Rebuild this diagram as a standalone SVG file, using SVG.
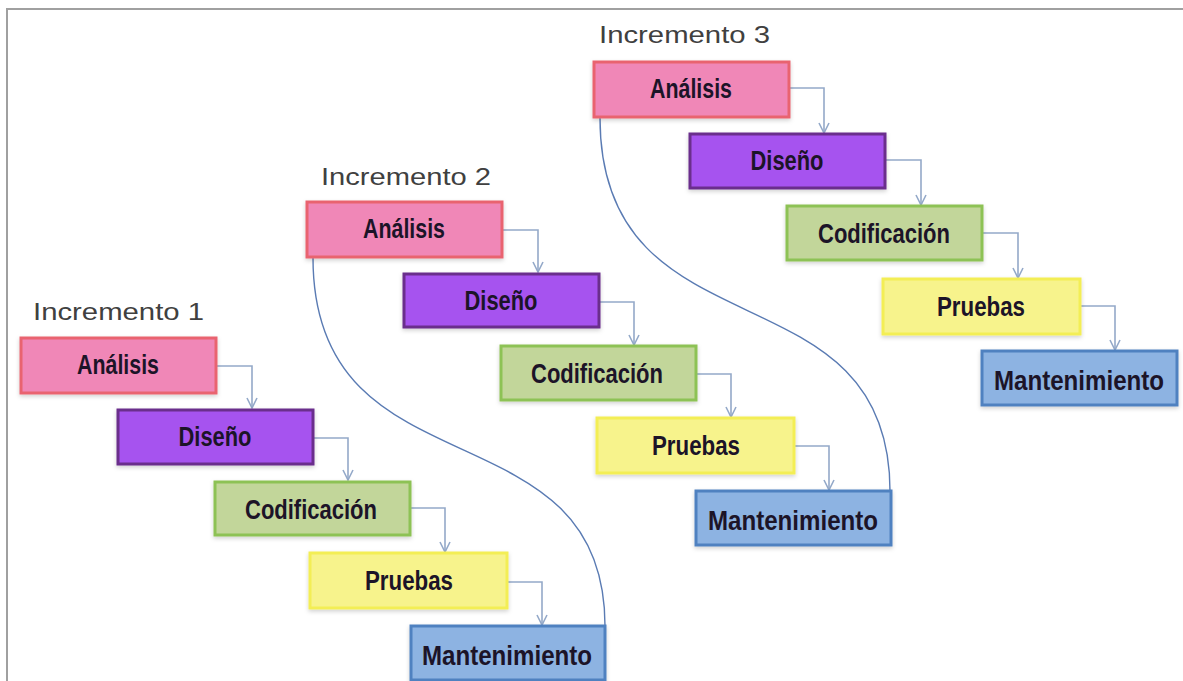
<svg xmlns="http://www.w3.org/2000/svg" width="1183" height="681" viewBox="0 0 1183 681">
<defs>
<style>
.bg{fill:#ffffff}
.frame{fill:none;stroke:#a0a0a0;stroke-width:2}
.box{stroke-width:3}
.an{fill:#f087b7;stroke:#e9646f}
.di{fill:#a653ef;stroke:#6b2d8c}
.co{fill:#c2d69a;stroke:#8dc255}
.pr{fill:#f7f38c;stroke:#f3ee55}
.ma{fill:#8db3e2;stroke:#4f81c0}
.lbl{font-family:"Liberation Sans",Arial,sans-serif;font-weight:bold;font-size:27px;fill:#1c1428;text-anchor:middle}
.inc{font-family:"Liberation Sans",Arial,sans-serif;font-size:24px;fill:#404040}
.conn{fill:none;stroke:#94a9c9;stroke-width:1.6}
.arc{fill:none;stroke:#5a7bb3;stroke-width:1.4}
</style>
<marker id="arr" viewBox="0 0 12 12" refX="11" refY="6" markerWidth="12" markerHeight="12" markerUnits="userSpaceOnUse" orient="auto">
<path d="M1,1 L11,6 L1,11" fill="none" stroke="#94a9c9" stroke-width="1.6"/>
</marker>
<filter id="sh" x="-10%" y="-20%" width="120%" height="150%">
<feDropShadow dx="0" dy="2" stdDeviation="2" flood-color="#000" flood-opacity="0.18"/>
</filter>
</defs>
<rect class="bg" x="0" y="0" width="1183" height="681"/>
<path class="frame" d="M7,681 L7,9 L1183,9"/>

<g id="connectors">
<path class="arc" d="M313,258 C313,500 605,400 605,626"/>
<path class="arc" d="M600,118 C600,361 890,261 890,491"/>
<path class="conn" marker-end="url(#arr)" d="M216,366 H252 V408"/>
<path class="conn" marker-end="url(#arr)" d="M313,438 H348 V480"/>
<path class="conn" marker-end="url(#arr)" d="M410,508 H445 V552"/>
<path class="conn" marker-end="url(#arr)" d="M506,582 H542 V625"/>
<path class="conn" marker-end="url(#arr)" d="M502,230 H538 V272"/>
<path class="conn" marker-end="url(#arr)" d="M599,302 H634 V345"/>
<path class="conn" marker-end="url(#arr)" d="M696,374 H731 V417"/>
<path class="conn" marker-end="url(#arr)" d="M793,446 H829 V490"/>
<path class="conn" marker-end="url(#arr)" d="M789,88 H824 V133"/>
<path class="conn" marker-end="url(#arr)" d="M885,160 H921 V205"/>
<path class="conn" marker-end="url(#arr)" d="M982,233 H1018 V278"/>
<path class="conn" marker-end="url(#arr)" d="M1079,306 H1115 V350"/>
</g>

<text class="inc" x="33" y="320" textLength="171" lengthAdjust="spacingAndGlyphs">Incremento 1</text>
<text class="inc" x="321" y="185" textLength="170" lengthAdjust="spacingAndGlyphs">Incremento 2</text>
<text class="inc" x="599" y="43" textLength="171" lengthAdjust="spacingAndGlyphs">Incremento 3</text>

<g id="i1-analisis"><rect class="box an" filter="url(#sh)" x="21" y="338" width="195" height="55"/><text class="lbl" x="118" y="374" textLength="82" lengthAdjust="spacingAndGlyphs">Análisis</text></g>
<g id="i1-diseno"><rect class="box di" filter="url(#sh)" x="118" y="410" width="195" height="54"/><text class="lbl" x="215" y="446" textLength="73" lengthAdjust="spacingAndGlyphs">Diseño</text></g>
<g id="i1-codificacion"><rect class="box co" filter="url(#sh)" x="215" y="482" width="195" height="53"/><text class="lbl" x="311" y="519" textLength="132" lengthAdjust="spacingAndGlyphs">Codificación</text></g>
<g id="i1-pruebas"><rect class="box pr" filter="url(#sh)" x="310" y="553" width="197" height="55"/><text class="lbl" x="409" y="590" textLength="88" lengthAdjust="spacingAndGlyphs">Pruebas</text></g>
<g id="i1-mantenimiento"><rect class="box ma" filter="url(#sh)" x="411" y="626" width="194" height="54"/><text class="lbl" x="507" y="665" textLength="170" lengthAdjust="spacingAndGlyphs">Mantenimiento</text></g>

<g id="i2-analisis"><rect class="box an" filter="url(#sh)" x="307" y="202" width="195" height="55"/><text class="lbl" x="404" y="238" textLength="82" lengthAdjust="spacingAndGlyphs">Análisis</text></g>
<g id="i2-diseno"><rect class="box di" filter="url(#sh)" x="404" y="274" width="195" height="53"/><text class="lbl" x="501" y="310" textLength="73" lengthAdjust="spacingAndGlyphs">Diseño</text></g>
<g id="i2-codificacion"><rect class="box co" filter="url(#sh)" x="501" y="346" width="195" height="54"/><text class="lbl" x="597" y="383" textLength="132" lengthAdjust="spacingAndGlyphs">Codificación</text></g>
<g id="i2-pruebas"><rect class="box pr" filter="url(#sh)" x="597" y="418" width="197" height="55"/><text class="lbl" x="696" y="455" textLength="88" lengthAdjust="spacingAndGlyphs">Pruebas</text></g>
<g id="i2-mantenimiento"><rect class="box ma" filter="url(#sh)" x="696" y="491" width="195" height="54"/><text class="lbl" x="793" y="530" textLength="170" lengthAdjust="spacingAndGlyphs">Mantenimiento</text></g>

<g id="i3-analisis"><rect class="box an" filter="url(#sh)" x="594" y="62" width="195" height="55"/><text class="lbl" x="691" y="98" textLength="82" lengthAdjust="spacingAndGlyphs">Análisis</text></g>
<g id="i3-diseno"><rect class="box di" filter="url(#sh)" x="690" y="134" width="195" height="54"/><text class="lbl" x="787" y="170" textLength="73" lengthAdjust="spacingAndGlyphs">Diseño</text></g>
<g id="i3-codificacion"><rect class="box co" filter="url(#sh)" x="787" y="206" width="195" height="54"/><text class="lbl" x="884" y="243" textLength="132" lengthAdjust="spacingAndGlyphs">Codificación</text></g>
<g id="i3-pruebas"><rect class="box pr" filter="url(#sh)" x="883" y="279" width="197" height="55"/><text class="lbl" x="981" y="316" textLength="88" lengthAdjust="spacingAndGlyphs">Pruebas</text></g>
<g id="i3-mantenimiento"><rect class="box ma" filter="url(#sh)" x="982" y="351" width="195" height="54"/><text class="lbl" x="1079" y="390" textLength="170" lengthAdjust="spacingAndGlyphs">Mantenimiento</text></g>
</svg>
